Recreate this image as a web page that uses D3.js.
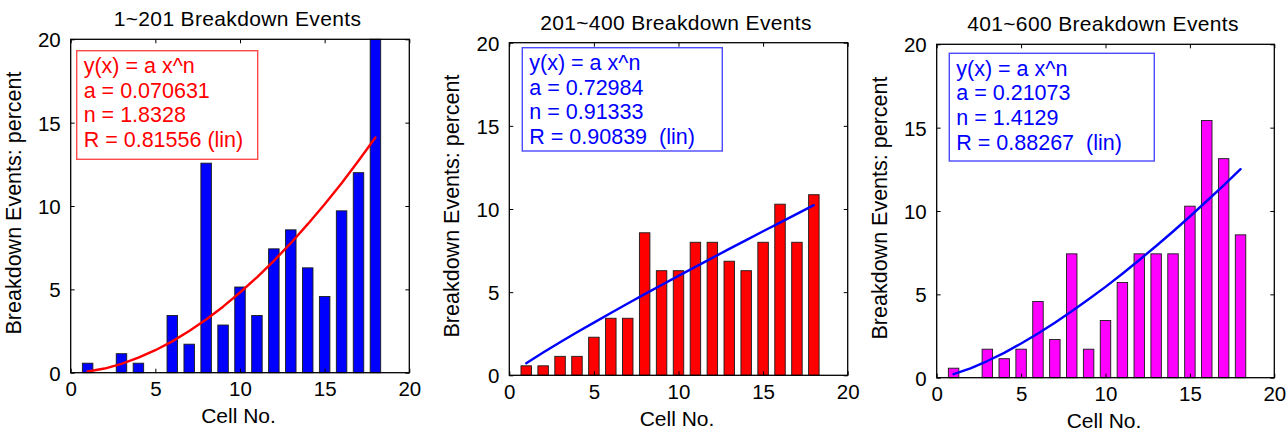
<!DOCTYPE html>
<html>
<head>
<meta charset="utf-8">
<script src="https://cdn.jsdelivr.net/npm/d3@7"></script>
<style>
  html, body { margin: 0; padding: 0; background: #fff; }
  svg { display: block; }
  text { font-family: "Liberation Sans", Arial, Helvetica, sans-serif; }
</style>
</head>
<body>
<svg id="chart" width="1286" height="431"></svg>
<script>
// ---- data ----
const cells = [1, 2, 3, 4, 5, 6, 7, 8, 9, 10, 11, 12, 13, 14, 15, 16, 17, 18];
const xTicks = [0, 5, 10, 15, 20];
const yTicks = [0, 5, 10, 15, 20];

const titles = ["1~201 Breakdown Events", "201~400 Breakdown Events", "401~600 Breakdown Events"];
const xLabel = "Cell No.";
const yLabel = "Breakdown Events: percent";

const events1 = [0.57, 0, 1.14, 0.57, 0, 3.43, 1.71, 12.57, 2.86, 5.14, 3.43, 7.43, 8.57, 6.29, 4.57, 9.71, 12.00, 20.00];
const events2 = [0.57, 0.57, 1.14, 1.14, 2.29, 3.43, 3.43, 8.57, 6.29, 6.29, 8.00, 8.00, 6.86, 6.29, 8.00, 10.29, 8.00, 10.86];
const events3 = [0.57, 0, 1.71, 1.14, 1.71, 4.57, 2.29, 7.43, 1.71, 3.43, 5.71, 7.43, 7.43, 7.43, 10.29, 15.43, 13.14, 8.57];

const fit1 = [0.07, 0.25, 0.53, 0.90, 1.35, 1.88, 2.50, 3.19, 3.96, 4.81, 5.72, 6.71, 7.77, 8.91, 10.11, 11.37, 12.71, 14.11];
const fit2 = [0.73, 1.37, 1.99, 2.59, 3.17, 3.75, 4.32, 4.88, 5.43, 5.98, 6.52, 7.06, 7.60, 8.13, 8.66, 9.18, 9.71, 10.23];
const fit3 = [0.21, 0.56, 1.00, 1.49, 2.05, 2.65, 3.29, 3.98, 4.70, 5.45, 6.24, 7.06, 7.90, 8.77, 9.67, 10.60, 11.54, 12.51];

const legend1 = ["y(x) = a x^n", "a = 0.070631", "n = 1.8328", "R = 0.81556 (lin)"];
const legend2 = ["y(x) = a x^n", "a = 0.72984", "n = 0.91333", "R = 0.90839  (lin)"];
const legend3 = ["y(x) = a x^n", "a = 0.21073", "n = 1.4129", "R = 0.88267  (lin)"];

// ---- layout / style ----
const panels = [
  { title: titles[0], bars: events1, fit: fit1, legend: legend1,
    barColor: "#0000ff", fitColor: "#ff0000", legColor: "#ff0000", legBorder: "#ff4a4a",
    x0: 70.7, x1: 409.3, y0: 39.3, y1: 372.7,
    leg: { x: 76.7, y: 50.7, w: 181, h: 108.6 } },
  { title: titles[1], bars: events2, fit: fit2, legend: legend2,
    barColor: "#ff0000", fitColor: "#0000ff", legColor: "#0000ff", legBorder: "#4a4aff",
    x0: 509.3, x1: 847.7, y0: 42.7, y1: 375.3,
    leg: { x: 522.3, y: 47.7, w: 200, h: 103.3 } },
  { title: titles[2], bars: events3, fit: fit3, legend: legend3,
    barColor: "#ff00ff", fitColor: "#0000ff", legColor: "#0000ff", legBorder: "#4a4aff",
    x0: 936.7, x1: 1274.3, y0: 44.3, y1: 377.7,
    leg: { x: 949.3, y: 53.3, w: 205, h: 107.7 } }
];

const svg = d3.select("#chart");
svg.append("rect").attr("width", 1286).attr("height", 431).attr("fill", "#fff");

panels.forEach((p, pi) => {
  const x = d3.scaleLinear().domain([0, 20]).range([p.x0, p.x1]);
  const y = d3.scaleLinear().domain([0, 20]).range([p.y1, p.y0]);
  const g = svg.append("g");
  const unit = x(1) - x(0);
  const bw = unit * 0.62;

  // bars
  g.selectAll("rect.bar").data(cells).enter().append("rect")
    .attr("class", "bar")
    .attr("x", d => x(d) - bw / 2)
    .attr("width", bw)
    .attr("y", (d, i) => y(p.bars[i]))
    .attr("height", (d, i) => y(0) - y(p.bars[i]))
    .attr("fill", p.barColor)
    .attr("stroke", "#1a1a1a")
    .attr("stroke-width", 0.9);

  // fit curve
  const line = d3.line().x(d => x(d)).y((d, i) => y(p.fit[i]));
  g.append("path").datum(cells)
    .attr("d", line)
    .attr("fill", "none")
    .attr("stroke", p.fitColor)
    .attr("stroke-width", 2.4)
    .attr("stroke-linejoin", "round")
    .attr("stroke-linecap", "round");

  // axes (ticks inward on all four sides)
  const tickLen = 4;
  const fs = 20.5;
  const axB = d3.axisBottom(x).tickValues(xTicks).tickSizeInner(-tickLen).tickSizeOuter(0).tickPadding(9);
  const axT = d3.axisTop(x).tickValues(xTicks).tickSizeInner(-tickLen).tickSizeOuter(0).tickFormat("");
  const axL = d3.axisLeft(y).tickValues(yTicks).tickSizeInner(-tickLen).tickSizeOuter(0).tickPadding(10);
  const axR = d3.axisRight(y).tickValues(yTicks).tickSizeInner(-tickLen).tickSizeOuter(0).tickFormat("");

  const gb = g.append("g").attr("transform", `translate(0,${p.y1})`).call(axB);
  const gt = g.append("g").attr("transform", `translate(0,${p.y0})`).call(axT);
  const gl = g.append("g").attr("transform", `translate(${p.x0},0)`).call(axL);
  const gr = g.append("g").attr("transform", `translate(${p.x1},0)`).call(axR);
  [gb, gt, gl, gr].forEach(a => {
    a.select(".domain").remove();
    a.attr("font-family", null);
    a.selectAll(".tick line").attr("stroke", "#000").attr("stroke-width", 1);
    a.selectAll("text").attr("font-size", fs).style("fill", "#000");
  });
  gl.selectAll(".tick text").attr("dy", "0.36em");
  gb.selectAll(".tick text").attr("dy", "0.71em");

  // frame
  g.append("rect")
    .attr("x", p.x0).attr("y", p.y0)
    .attr("width", p.x1 - p.x0).attr("height", p.y1 - p.y0)
    .attr("fill", "none").attr("stroke", "#000").attr("stroke-width", 1.3);

  // legend box
  const lg = g.append("g");
  lg.append("rect")
    .attr("x", p.leg.x).attr("y", p.leg.y)
    .attr("width", p.leg.w).attr("height", p.leg.h)
    .attr("fill", "#fff").attr("stroke", p.legBorder).attr("stroke-width", 1.4);
  lg.selectAll("text").data(p.legend).enter().append("text")
    .attr("x", p.leg.x + 7)
    .attr("y", (d, i) => p.leg.y + 22.5 + i * 24.6)
    .attr("font-size", 21.5)
    .style("white-space", "pre")
    .attr("xml:space", "preserve")
    .style("fill", p.legColor)
    .text(d => d);

  // title
  const cx = (p.x0 + p.x1) / 2;
  g.append("text")
    .attr("x", cx - 2.5).attr("y", p.y0 - 13)
    .attr("text-anchor", "middle")
    .attr("font-size", 21)
    .style("letter-spacing", "0.35px")
    .style("fill", "#000")
    .text(p.title);

  // x label
  g.append("text")
    .attr("x", cx - 1.5).attr("y", p.y1 + 50.5)
    .attr("text-anchor", "middle")
    .attr("font-size", 21)
    .style("fill", "#000")
    .text(xLabel);

  // y label
  const cy = (p.y0 + p.y1) / 2;
  const lx = p.x0 - 50;
  g.append("text")
    .attr("transform", `translate(${lx},${cy - 3}) rotate(-90)`)
    .attr("text-anchor", "middle")
    .attr("font-size", 21.5)
    .style("fill", "#000")
    .text(yLabel);
});
</script>
</body>
</html>
